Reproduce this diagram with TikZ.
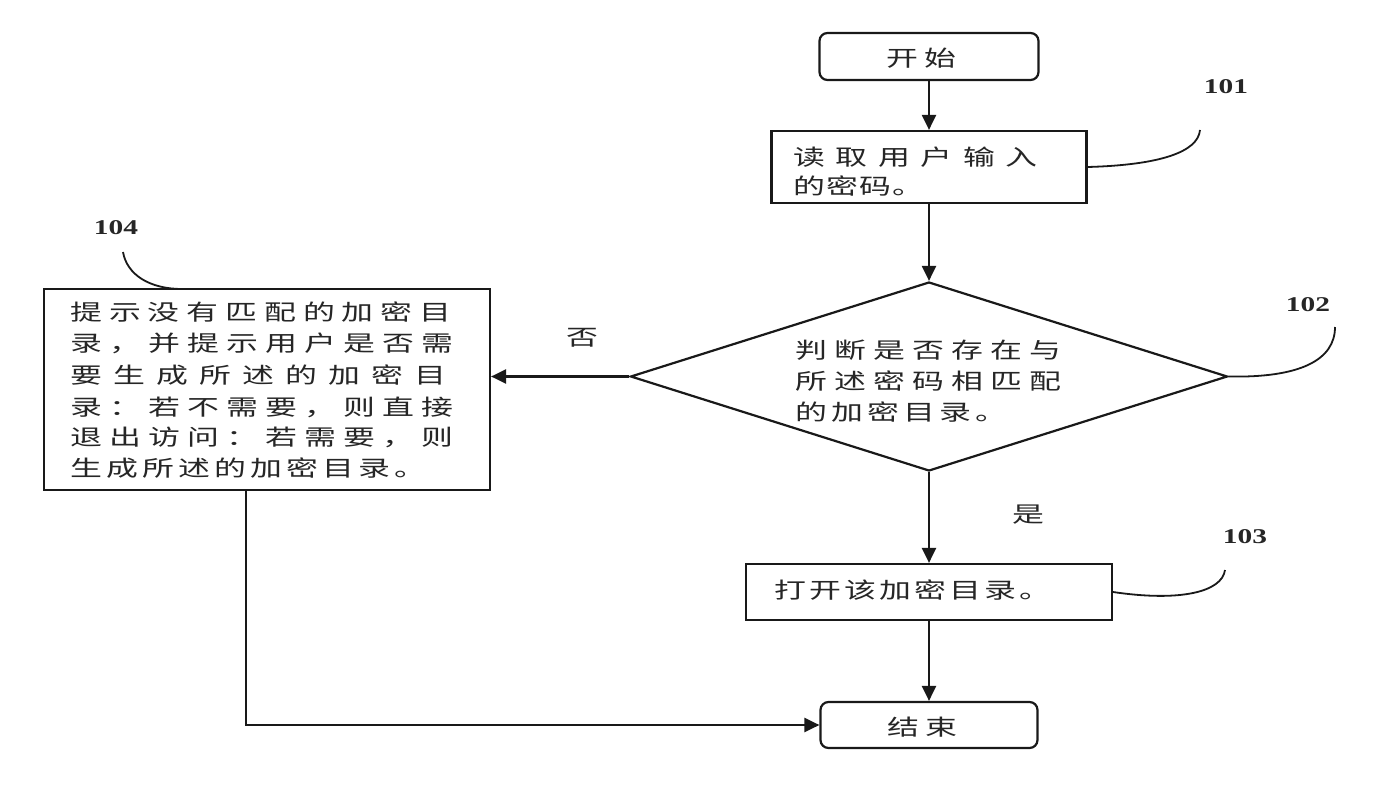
\documentclass[tikz,border=0pt]{standalone}
\usepackage{fontspec}
\usepackage{graphicx}
\usetikzlibrary{arrows.meta,shapes.geometric}
\newfontfamily\cjk{Noto Sans CJK SC}
\newfontfamily\numfont{Liberation Serif}
\newcommand\pitchtext[2]{\def\pitchw{#1}\pitchloop#2\relax}
\def\pitchloop#1{\ifx#1\relax\else\makebox[\pitchw][l]{\scalebox{1.45}[1]{#1}}\expandafter\pitchloop\fi}
\newcommand\widetext[1]{\scalebox{1.45}[1]{#1}}
\begin{document}
\begin{tikzpicture}[x=1pt,y=-1pt,
  shp/.style={draw=black!90, line width=2.2pt, inner sep=0pt, fill=white},
  rbox/.style={shp, rectangle, rounded corners=8pt},
  sbox/.style={shp, rectangle},
  conn/.style={draw=black!90, line width=2.2pt, -{Triangle[length=15pt,width=14pt]}},
  lead/.style={draw=black!90, line width=1.8pt},
  txt/.style={anchor=west, inner sep=0pt, text=black!85, font=\cjk\fontsize{22}{26}\selectfont},
  ctxt/.style={inner sep=0pt, text=black!85, font=\cjk\fontsize{22}{26}\selectfont},
  num/.style={inner sep=0pt, text=black!85, font=\numfont\bfseries\fontsize{21}{26}\selectfont}]
\useasboundingbox (0,0) rectangle (1400,800);
\fill[white] (0,0) rectangle (1400,800);

% shapes
\node[rbox, minimum width=219pt, minimum height=47pt] (start) at (929,56.5) {};
\node[sbox, minimum width=315pt, minimum height=72pt] (b101) at (929,167) {};
\node[shp, diamond, minimum width=597pt, minimum height=189pt] (dia) at (929,376.5) {};
\node[sbox, minimum width=446pt, minimum height=201pt] (b104) at (267,389.5) {};
\node[sbox, minimum width=366pt, minimum height=56pt] (b103) at (929,592) {};
\node[rbox, minimum width=217pt, minimum height=46pt] (end) at (929,725) {};

% texts
\node[txt] (tstart) at (886,58) {\pitchtext{38pt}{开始}};
\node[txt] (t101a) at (793,157) {\pitchtext{42.5pt}{读取用户输入}};
\node[txt] (t101b) at (793,186) {\pitchtext{33pt}{的密码。}};
\node[txt] (tdia1) at (795,350) {\pitchtext{39pt}{判断是否存在与}};
\node[txt] (tdia2) at (795,381) {\pitchtext{39pt}{所述密码相匹配}};
\node[txt] (tdia3) at (795,412) {\pitchtext{36pt}{的加密目录。}};
\node[txt] (t104a) at (70,312) {\pitchtext{38.8pt}{提示没有匹配的加密目}};
\node[txt] (t104b) at (70,343) {\pitchtext{39pt}{录，并提示用户是否需}};
\node[txt] (t104c) at (70,375) {\pitchtext{43pt}{要生成所述的加密目}};
\node[txt] (t104d) at (70,407) {\pitchtext{39pt}{录：若不需要，则直接}};
\node[txt] (t104e) at (70,437) {\pitchtext{39pt}{退出访问：若需要，则}};
\node[txt] (t104f) at (70,468) {\pitchtext{36pt}{生成所述的加密目录。}};
\node[txt] (t103) at (774,590) {\pitchtext{35pt}{打开该加密目录。}};
\node[txt] (tend) at (887,727) {\pitchtext{38pt}{结束}};
\node[ctxt] (no) at (582,338) {\widetext{否}};
\node[ctxt] (yes) at (1028,515) {\widetext{是}};

% reference numbers
\node[num] (n101) at (1226,87) {\scalebox{1.4}[1]{101}};
\node[num] (n102) at (1308,305) {\scalebox{1.4}[1]{102}};
\node[num] (n103) at (1245,537) {\scalebox{1.4}[1]{103}};
\node[num] (n104) at (116,228) {\scalebox{1.4}[1]{104}};

% connectors
\draw[conn] (start.south) -- (b101.north);
\draw[conn] (b101.south) -- (dia.north);
\draw[conn] (dia.west) -- (dia.west -| b104.east);
\draw[conn] (dia.south) -- (b103.north);
\draw[conn] (b103.south) -- (end.north);
\coordinate (b104out) at (246,490);
\draw[conn] (b104out) |- (end.west);

% leader curves
\coordinate (c101) at (1200,130);
\coordinate (c102) at (1335,327);
\coordinate (c103) at (1225,570);
\coordinate (c104) at (123,252);
\coordinate (t104) at (182,289);
\draw[lead] (b101.east) .. controls (1160,165) and (1198,152) .. (c101);
\draw[lead] (dia.east) .. controls (1300,378) and (1335,360) .. (c102);
\draw[lead] (b103.east) .. controls (1180,602) and (1222,592) .. (c103);
\draw[lead] (c104) .. controls (127,275) and (150,289) .. (t104);
\end{tikzpicture}
\end{document}
